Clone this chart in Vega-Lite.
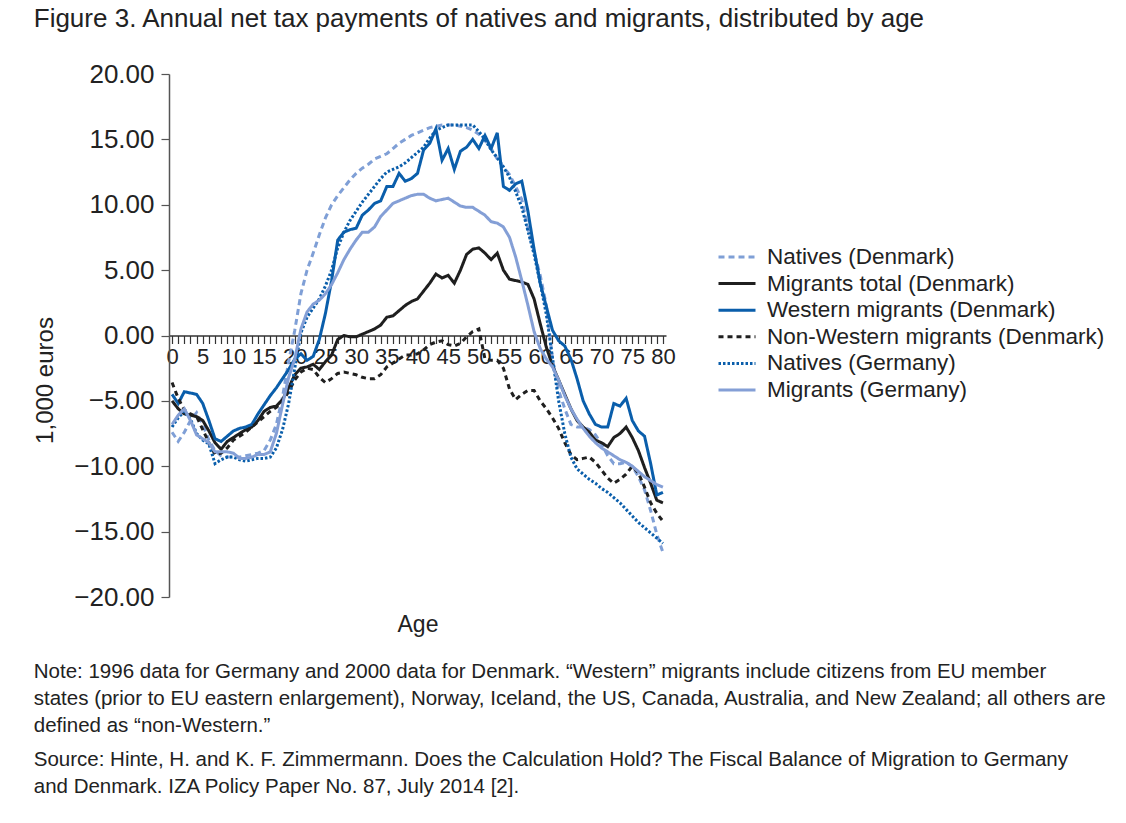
{
  "$schema": "https://vega.github.io/schema/vega-lite/v6.json",
  "background": "white",
  "padding": {"left": 33, "top": 6, "right": 10, "bottom": 10},
  "config": {"font": "Liberation Sans", "view": {"stroke": null}},
  "title": {
    "text": "Figure 3. Annual net tax payments of natives and migrants, distributed by age",
    "anchor": "start", "font": "Liberation Sans", "fontSize": 26, "fontWeight": "normal",
    "color": "#222222", "offset": 29
  },
  "vconcat": [
    {
      "width": 497,
      "height": 523,
      "title": {
        "text": [
          "Note: 1996 data for Germany and 2000 data for Denmark. “Western” migrants include citizens from EU member",
          "states (prior to EU eastern enlargement), Norway, Iceland, the US, Canada, Australia, and New Zealand; all others are",
          "defined as “non-Western.”"
        ],
        "subtitle": [
          "Source: Hinte, H. and K. F. Zimmermann. Does the Calculation Hold? The Fiscal Balance of Migration to Germany",
          "and Denmark. IZA Policy Paper No. 87, July 2014 [2]."
        ],
        "orient": "bottom", "anchor": "start", "frame": "bounds",
        "fontSize": 20.5, "fontWeight": "normal", "color": "#222222", "lineHeight": 27,
        "subtitleFontSize": 20.5, "subtitleColor": "#222222", "subtitleLineHeight": 27, "subtitlePadding": 14,
        "offset": 25
      },
      "data": {
        "values": [
          {"age":0,"Natives (Denmark)":-7.4,"Migrants total (Denmark)":-5.0,"Western migrants (Denmark)":-4.5,"Non-Western migrants (Denmark)":-3.6,"Natives (Germany)":-7.0,"Migrants (Germany)":-6.8},
          {"age":1,"Natives (Denmark)":-8.1,"Migrants total (Denmark)":-5.6,"Western migrants (Denmark)":-5.2,"Non-Western migrants (Denmark)":-4.8,"Natives (Germany)":-6.3,"Migrants (Germany)":-6.1},
          {"age":2,"Natives (Denmark)":-7.4,"Migrants total (Denmark)":-6.0,"Western migrants (Denmark)":-4.3,"Non-Western migrants (Denmark)":-5.7,"Natives (Germany)":-5.8,"Migrants (Germany)":-5.6},
          {"age":3,"Natives (Denmark)":-6.5,"Migrants total (Denmark)":-6.1,"Western migrants (Denmark)":-4.4,"Non-Western migrants (Denmark)":-6.0,"Natives (Germany)":-6.4,"Migrants (Germany)":-6.5},
          {"age":4,"Natives (Denmark)":-5.9,"Migrants total (Denmark)":-6.2,"Western migrants (Denmark)":-4.5,"Non-Western migrants (Denmark)":-6.2,"Natives (Germany)":-7.5,"Migrants (Germany)":-7.6},
          {"age":5,"Natives (Denmark)":-6.8,"Migrants total (Denmark)":-6.5,"Western migrants (Denmark)":-5.2,"Non-Western migrants (Denmark)":-7.2,"Natives (Germany)":-8.0,"Migrants (Germany)":-7.9},
          {"age":6,"Natives (Denmark)":-8.0,"Migrants total (Denmark)":-7.3,"Western migrants (Denmark)":-6.5,"Non-Western migrants (Denmark)":-8.2,"Natives (Germany)":-8.3,"Migrants (Germany)":-8.2},
          {"age":7,"Natives (Denmark)":-8.8,"Migrants total (Denmark)":-8.2,"Western migrants (Denmark)":-7.9,"Non-Western migrants (Denmark)":-9.1,"Natives (Germany)":-9.8,"Migrants (Germany)":-8.9},
          {"age":8,"Natives (Denmark)":-9.2,"Migrants total (Denmark)":-8.7,"Western migrants (Denmark)":-8.1,"Non-Western migrants (Denmark)":-9.0,"Natives (Germany)":-9.5,"Migrants (Germany)":-8.9},
          {"age":9,"Natives (Denmark)":-9.3,"Migrants total (Denmark)":-8.1,"Western migrants (Denmark)":-7.7,"Non-Western migrants (Denmark)":-8.6,"Natives (Germany)":-9.3,"Migrants (Germany)":-8.9},
          {"age":10,"Natives (Denmark)":-9.3,"Migrants total (Denmark)":-7.8,"Western migrants (Denmark)":-7.3,"Non-Western migrants (Denmark)":-8.0,"Natives (Germany)":-9.3,"Migrants (Germany)":-9.0},
          {"age":11,"Natives (Denmark)":-9.3,"Migrants total (Denmark)":-7.5,"Western migrants (Denmark)":-7.1,"Non-Western migrants (Denmark)":-7.7,"Natives (Germany)":-9.5,"Migrants (Germany)":-9.4},
          {"age":12,"Natives (Denmark)":-9.2,"Migrants total (Denmark)":-7.2,"Western migrants (Denmark)":-7.0,"Non-Western migrants (Denmark)":-7.4,"Natives (Germany)":-9.6,"Migrants (Germany)":-9.4},
          {"age":13,"Natives (Denmark)":-9.1,"Migrants total (Denmark)":-7.0,"Western migrants (Denmark)":-6.8,"Non-Western migrants (Denmark)":-7.0,"Natives (Germany)":-9.5,"Migrants (Germany)":-9.3},
          {"age":14,"Natives (Denmark)":-9.0,"Migrants total (Denmark)":-6.5,"Western migrants (Denmark)":-6.0,"Non-Western migrants (Denmark)":-6.6,"Natives (Germany)":-9.4,"Migrants (Germany)":-9.1},
          {"age":15,"Natives (Denmark)":-8.8,"Migrants total (Denmark)":-5.8,"Western migrants (Denmark)":-5.3,"Non-Western migrants (Denmark)":-6.2,"Natives (Germany)":-9.4,"Migrants (Germany)":-9.1},
          {"age":16,"Natives (Denmark)":-8.0,"Migrants total (Denmark)":-5.5,"Western migrants (Denmark)":-4.6,"Non-Western migrants (Denmark)":-5.8,"Natives (Germany)":-9.3,"Migrants (Germany)":-8.9},
          {"age":17,"Natives (Denmark)":-6.8,"Migrants total (Denmark)":-5.4,"Western migrants (Denmark)":-4.0,"Non-Western migrants (Denmark)":-5.5,"Natives (Germany)":-8.6,"Migrants (Germany)":-7.5},
          {"age":18,"Natives (Denmark)":-4.7,"Migrants total (Denmark)":-4.9,"Western migrants (Denmark)":-3.3,"Non-Western migrants (Denmark)":-5.0,"Natives (Germany)":-7.2,"Migrants (Germany)":-5.3},
          {"age":19,"Natives (Denmark)":-2.0,"Migrants total (Denmark)":-4.0,"Western migrants (Denmark)":-2.6,"Non-Western migrants (Denmark)":-4.3,"Natives (Germany)":-5.2,"Migrants (Germany)":-3.2},
          {"age":20,"Natives (Denmark)":0.4,"Migrants total (Denmark)":-3.0,"Western migrants (Denmark)":-1.8,"Non-Western migrants (Denmark)":-3.4,"Natives (Germany)":-2.5,"Migrants (Germany)":-1.8},
          {"age":21,"Natives (Denmark)":3.2,"Migrants total (Denmark)":-2.5,"Western migrants (Denmark)":-1.4,"Non-Western migrants (Denmark)":-2.8,"Natives (Germany)":0.2,"Migrants (Germany)":0.5},
          {"age":22,"Natives (Denmark)":5.0,"Migrants total (Denmark)":-2.4,"Western migrants (Denmark)":-1.9,"Non-Western migrants (Denmark)":-2.5,"Natives (Germany)":1.4,"Migrants (Germany)":1.8},
          {"age":23,"Natives (Denmark)":6.3,"Migrants total (Denmark)":-2.2,"Western migrants (Denmark)":-1.6,"Non-Western migrants (Denmark)":-2.6,"Natives (Germany)":2.1,"Migrants (Germany)":2.4},
          {"age":24,"Natives (Denmark)":7.7,"Migrants total (Denmark)":-2.6,"Western migrants (Denmark)":-0.3,"Non-Western migrants (Denmark)":-3.2,"Natives (Germany)":2.8,"Migrants (Germany)":2.7},
          {"age":25,"Natives (Denmark)":9.0,"Migrants total (Denmark)":-2.0,"Western migrants (Denmark)":1.7,"Non-Western migrants (Denmark)":-3.6,"Natives (Germany)":3.8,"Migrants (Germany)":3.2},
          {"age":26,"Natives (Denmark)":10.0,"Migrants total (Denmark)":-1.5,"Western migrants (Denmark)":4.2,"Non-Western migrants (Denmark)":-3.3,"Natives (Germany)":5.0,"Migrants (Germany)":3.9},
          {"age":27,"Natives (Denmark)":10.7,"Migrants total (Denmark)":-0.3,"Western migrants (Denmark)":7.3,"Non-Western migrants (Denmark)":-2.9,"Natives (Germany)":6.7,"Migrants (Germany)":4.8},
          {"age":28,"Natives (Denmark)":11.3,"Migrants total (Denmark)":0.0,"Western migrants (Denmark)":7.9,"Non-Western migrants (Denmark)":-2.8,"Natives (Germany)":7.9,"Migrants (Germany)":5.8},
          {"age":29,"Natives (Denmark)":11.9,"Migrants total (Denmark)":-0.1,"Western migrants (Denmark)":8.1,"Non-Western migrants (Denmark)":-2.9,"Natives (Germany)":8.8,"Migrants (Germany)":6.6},
          {"age":30,"Natives (Denmark)":12.4,"Migrants total (Denmark)":-0.1,"Western migrants (Denmark)":8.2,"Non-Western migrants (Denmark)":-3.0,"Natives (Germany)":9.5,"Migrants (Germany)":7.3},
          {"age":31,"Natives (Denmark)":12.8,"Migrants total (Denmark)":0.1,"Western migrants (Denmark)":9.2,"Non-Western migrants (Denmark)":-3.2,"Natives (Germany)":10.2,"Migrants (Germany)":7.9},
          {"age":32,"Natives (Denmark)":13.1,"Migrants total (Denmark)":0.3,"Western migrants (Denmark)":9.6,"Non-Western migrants (Denmark)":-3.3,"Natives (Germany)":10.8,"Migrants (Germany)":7.9},
          {"age":33,"Natives (Denmark)":13.5,"Migrants total (Denmark)":0.5,"Western migrants (Denmark)":10.1,"Non-Western migrants (Denmark)":-3.3,"Natives (Germany)":11.4,"Migrants (Germany)":8.3},
          {"age":34,"Natives (Denmark)":13.7,"Migrants total (Denmark)":0.8,"Western migrants (Denmark)":10.3,"Non-Western migrants (Denmark)":-3.0,"Natives (Germany)":12.0,"Migrants (Germany)":9.1},
          {"age":35,"Natives (Denmark)":13.9,"Migrants total (Denmark)":1.4,"Western migrants (Denmark)":11.4,"Non-Western migrants (Denmark)":-2.4,"Natives (Germany)":12.5,"Migrants (Germany)":9.6},
          {"age":36,"Natives (Denmark)":14.3,"Migrants total (Denmark)":1.5,"Western migrants (Denmark)":11.4,"Non-Western migrants (Denmark)":-2.1,"Natives (Germany)":12.7,"Migrants (Germany)":10.1},
          {"age":37,"Natives (Denmark)":14.7,"Migrants total (Denmark)":1.9,"Western migrants (Denmark)":12.4,"Non-Western migrants (Denmark)":-1.8,"Natives (Germany)":12.9,"Migrants (Germany)":10.3},
          {"age":38,"Natives (Denmark)":15.0,"Migrants total (Denmark)":2.3,"Western migrants (Denmark)":11.8,"Non-Western migrants (Denmark)":-1.5,"Natives (Germany)":13.2,"Migrants (Germany)":10.5},
          {"age":39,"Natives (Denmark)":15.3,"Migrants total (Denmark)":2.6,"Western migrants (Denmark)":12.0,"Non-Western migrants (Denmark)":-1.5,"Natives (Germany)":13.6,"Migrants (Germany)":10.7},
          {"age":40,"Natives (Denmark)":15.5,"Migrants total (Denmark)":2.8,"Western migrants (Denmark)":12.4,"Non-Western migrants (Denmark)":-1.4,"Natives (Germany)":14.0,"Migrants (Germany)":10.8},
          {"age":41,"Natives (Denmark)":15.7,"Migrants total (Denmark)":3.4,"Western migrants (Denmark)":14.2,"Non-Western migrants (Denmark)":-1.1,"Natives (Germany)":14.4,"Migrants (Germany)":10.8},
          {"age":42,"Natives (Denmark)":15.9,"Migrants total (Denmark)":4.0,"Western migrants (Denmark)":14.7,"Non-Western migrants (Denmark)":-0.7,"Natives (Germany)":15.1,"Migrants (Germany)":10.5},
          {"age":43,"Natives (Denmark)":16.0,"Migrants total (Denmark)":4.7,"Western migrants (Denmark)":15.8,"Non-Western migrants (Denmark)":-0.5,"Natives (Germany)":15.7,"Migrants (Germany)":10.3},
          {"age":44,"Natives (Denmark)":16.1,"Migrants total (Denmark)":4.4,"Western migrants (Denmark)":13.4,"Non-Western migrants (Denmark)":-0.4,"Natives (Germany)":15.9,"Migrants (Germany)":10.4},
          {"age":45,"Natives (Denmark)":16.1,"Migrants total (Denmark)":4.6,"Western migrants (Denmark)":14.3,"Non-Western migrants (Denmark)":-0.7,"Natives (Germany)":16.1,"Migrants (Germany)":10.5},
          {"age":46,"Natives (Denmark)":16.1,"Migrants total (Denmark)":4.0,"Western migrants (Denmark)":12.7,"Non-Western migrants (Denmark)":-0.8,"Natives (Germany)":16.1,"Migrants (Germany)":10.2},
          {"age":47,"Natives (Denmark)":16.0,"Migrants total (Denmark)":5.0,"Western migrants (Denmark)":14.1,"Non-Western migrants (Denmark)":-0.6,"Natives (Germany)":16.1,"Migrants (Germany)":9.9},
          {"age":48,"Natives (Denmark)":15.9,"Migrants total (Denmark)":6.2,"Western migrants (Denmark)":14.4,"Non-Western migrants (Denmark)":-0.1,"Natives (Germany)":16.1,"Migrants (Germany)":9.8},
          {"age":49,"Natives (Denmark)":15.7,"Migrants total (Denmark)":6.6,"Western migrants (Denmark)":15.0,"Non-Western migrants (Denmark)":0.3,"Natives (Germany)":16.1,"Migrants (Germany)":9.8},
          {"age":50,"Natives (Denmark)":15.4,"Migrants total (Denmark)":6.7,"Western migrants (Denmark)":14.3,"Non-Western migrants (Denmark)":0.5,"Natives (Germany)":15.6,"Migrants (Germany)":9.5},
          {"age":51,"Natives (Denmark)":14.9,"Migrants total (Denmark)":6.3,"Western migrants (Denmark)":15.3,"Non-Western migrants (Denmark)":-1.8,"Natives (Germany)":15.0,"Migrants (Germany)":9.2},
          {"age":52,"Natives (Denmark)":14.3,"Migrants total (Denmark)":5.8,"Western migrants (Denmark)":14.3,"Non-Western migrants (Denmark)":-1.9,"Natives (Germany)":14.2,"Migrants (Germany)":8.7},
          {"age":53,"Natives (Denmark)":13.5,"Migrants total (Denmark)":6.3,"Western migrants (Denmark)":15.5,"Non-Western migrants (Denmark)":-1.9,"Natives (Germany)":13.6,"Migrants (Germany)":8.6},
          {"age":54,"Natives (Denmark)":12.9,"Migrants total (Denmark)":5.0,"Western migrants (Denmark)":11.4,"Non-Western migrants (Denmark)":-2.5,"Natives (Germany)":12.9,"Migrants (Germany)":8.3},
          {"age":55,"Natives (Denmark)":12.3,"Migrants total (Denmark)":4.3,"Western migrants (Denmark)":11.1,"Non-Western migrants (Denmark)":-4.1,"Natives (Germany)":12.1,"Migrants (Germany)":7.5},
          {"age":56,"Natives (Denmark)":11.4,"Migrants total (Denmark)":4.2,"Western migrants (Denmark)":11.6,"Non-Western migrants (Denmark)":-4.9,"Natives (Germany)":11.0,"Migrants (Germany)":6.0},
          {"age":57,"Natives (Denmark)":10.4,"Migrants total (Denmark)":4.1,"Western migrants (Denmark)":11.8,"Non-Western migrants (Denmark)":-4.5,"Natives (Germany)":9.8,"Migrants (Germany)":4.2},
          {"age":58,"Natives (Denmark)":8.2,"Migrants total (Denmark)":3.9,"Western migrants (Denmark)":9.5,"Non-Western migrants (Denmark)":-4.2,"Natives (Germany)":8.0,"Migrants (Germany)":2.3},
          {"age":59,"Natives (Denmark)":6.4,"Migrants total (Denmark)":2.8,"Western migrants (Denmark)":6.6,"Non-Western migrants (Denmark)":-4.2,"Natives (Germany)":6.2,"Migrants (Germany)":0.3},
          {"age":60,"Natives (Denmark)":4.6,"Migrants total (Denmark)":0.9,"Western migrants (Denmark)":4.0,"Non-Western migrants (Denmark)":-5.0,"Natives (Germany)":4.0,"Migrants (Germany)":-1.0},
          {"age":61,"Natives (Denmark)":2.3,"Migrants total (Denmark)":-0.9,"Western migrants (Denmark)":2.2,"Non-Western migrants (Denmark)":-5.6,"Natives (Germany)":1.6,"Migrants (Germany)":-1.8},
          {"age":62,"Natives (Denmark)":-1.8,"Migrants total (Denmark)":-2.3,"Western migrants (Denmark)":0.4,"Non-Western migrants (Denmark)":-6.3,"Natives (Germany)":-1.7,"Migrants (Germany)":-2.4},
          {"age":63,"Natives (Denmark)":-4.2,"Migrants total (Denmark)":-3.4,"Western migrants (Denmark)":-0.4,"Non-Western migrants (Denmark)":-7.1,"Natives (Germany)":-5.0,"Migrants (Germany)":-3.4},
          {"age":64,"Natives (Denmark)":-5.6,"Migrants total (Denmark)":-4.5,"Western migrants (Denmark)":-0.8,"Non-Western migrants (Denmark)":-8.2,"Natives (Germany)":-7.5,"Migrants (Germany)":-4.6},
          {"age":65,"Natives (Denmark)":-6.8,"Migrants total (Denmark)":-5.6,"Western migrants (Denmark)":-1.8,"Non-Western migrants (Denmark)":-9.1,"Natives (Germany)":-9.3,"Migrants (Germany)":-5.6},
          {"age":66,"Natives (Denmark)":-7.0,"Migrants total (Denmark)":-6.5,"Western migrants (Denmark)":-3.3,"Non-Western migrants (Denmark)":-9.5,"Natives (Germany)":-10.2,"Migrants (Germany)":-6.4},
          {"age":67,"Natives (Denmark)":-7.0,"Migrants total (Denmark)":-7.0,"Western migrants (Denmark)":-5.0,"Non-Western migrants (Denmark)":-9.4,"Natives (Germany)":-10.6,"Migrants (Germany)":-7.1},
          {"age":68,"Natives (Denmark)":-7.2,"Migrants total (Denmark)":-7.4,"Western migrants (Denmark)":-6.0,"Non-Western migrants (Denmark)":-9.3,"Natives (Germany)":-11.0,"Migrants (Germany)":-7.7},
          {"age":69,"Natives (Denmark)":-7.6,"Migrants total (Denmark)":-8.0,"Western migrants (Denmark)":-6.8,"Non-Western migrants (Denmark)":-9.7,"Natives (Germany)":-11.3,"Migrants (Germany)":-8.2},
          {"age":70,"Natives (Denmark)":-8.3,"Migrants total (Denmark)":-8.2,"Western migrants (Denmark)":-7.0,"Non-Western migrants (Denmark)":-10.3,"Natives (Germany)":-11.7,"Migrants (Germany)":-8.6},
          {"age":71,"Natives (Denmark)":-9.2,"Migrants total (Denmark)":-8.5,"Western migrants (Denmark)":-7.0,"Non-Western migrants (Denmark)":-10.9,"Natives (Germany)":-12.0,"Migrants (Germany)":-8.9},
          {"age":72,"Natives (Denmark)":-9.8,"Migrants total (Denmark)":-7.8,"Western migrants (Denmark)":-5.2,"Non-Western migrants (Denmark)":-11.3,"Natives (Germany)":-12.4,"Migrants (Germany)":-9.2},
          {"age":73,"Natives (Denmark)":-9.8,"Migrants total (Denmark)":-7.5,"Western migrants (Denmark)":-5.4,"Non-Western migrants (Denmark)":-11.0,"Natives (Germany)":-12.8,"Migrants (Germany)":-9.5},
          {"age":74,"Natives (Denmark)":-9.7,"Migrants total (Denmark)":-7.0,"Western migrants (Denmark)":-4.8,"Non-Western migrants (Denmark)":-10.6,"Natives (Germany)":-13.3,"Migrants (Germany)":-9.7},
          {"age":75,"Natives (Denmark)":-10.0,"Migrants total (Denmark)":-7.8,"Western migrants (Denmark)":-6.5,"Non-Western migrants (Denmark)":-10.0,"Natives (Germany)":-13.8,"Migrants (Germany)":-10.0},
          {"age":76,"Natives (Denmark)":-10.8,"Migrants total (Denmark)":-8.8,"Western migrants (Denmark)":-7.3,"Non-Western migrants (Denmark)":-10.5,"Natives (Germany)":-14.3,"Migrants (Germany)":-10.4},
          {"age":77,"Natives (Denmark)":-11.8,"Migrants total (Denmark)":-10.1,"Western migrants (Denmark)":-7.7,"Non-Western migrants (Denmark)":-11.6,"Natives (Germany)":-14.7,"Migrants (Germany)":-10.8},
          {"age":78,"Natives (Denmark)":-13.4,"Migrants total (Denmark)":-11.3,"Western migrants (Denmark)":-9.8,"Non-Western migrants (Denmark)":-12.8,"Natives (Germany)":-15.1,"Migrants (Germany)":-11.1},
          {"age":79,"Natives (Denmark)":-15.2,"Migrants total (Denmark)":-12.6,"Western migrants (Denmark)":-12.2,"Non-Western migrants (Denmark)":-13.6,"Natives (Germany)":-15.5,"Migrants (Germany)":-11.4},
          {"age":80,"Natives (Denmark)":-16.6,"Migrants total (Denmark)":-12.8,"Western migrants (Denmark)":-12.0,"Non-Western migrants (Denmark)":-14.2,"Natives (Germany)":-15.9,"Migrants (Germany)":-11.6}
        ]
      },
      "transform": [
        {"fold": ["Natives (Denmark)", "Migrants total (Denmark)", "Western migrants (Denmark)", "Non-Western migrants (Denmark)", "Natives (Germany)", "Migrants (Germany)"], "as": ["series", "value"]}
      ],
      "mark": {"type": "line", "strokeWidth": 3, "strokeCap": "butt"},
      "encoding": {
        "x": {
          "field": "age", "type": "quantitative",
          "scale": {"domain": [-0.5, 80.5], "nice": false, "zero": false},
          "axis": {
            "title": "Age", "offset": -261.5,
            "values": [0,1,2,3,4,5,6,7,8,9,10,11,12,13,14,15,16,17,18,19,20,21,22,23,24,25,26,27,28,29,30,31,32,33,34,35,36,37,38,39,40,41,42,43,44,45,46,47,48,49,50,51,52,53,54,55,56,57,58,59,60,61,62,63,64,65,66,67,68,69,70,71,72,73,74,75,76,77,78,79,80],
            "labelExpr": "datum.value % 5 === 0 ? datum.label : ''",
            "labelOverlap": false, "labelFlush": false,
            "labelFontSize": 22, "labelColor": "#222222", "labelPadding": 3,
            "tickSize": 8, "tickColor": "#333333", "tickWidth": 1.2,
            "domainColor": "#333333", "domainWidth": 1.5,
            "grid": false,
            "titleFontSize": 23, "titleFontWeight": "normal", "titleColor": "#222222", "titlePadding": 246
          }
        },
        "y": {
          "field": "value", "type": "quantitative",
          "scale": {"domain": [-20, 20], "nice": false},
          "axis": {
            "title": "1,000 euros",
            "values": [-20, -15, -10, -5, 0, 5, 10, 15, 20],
            "format": ".2f",
            "labelFontSize": 26, "labelColor": "#222222", "labelPadding": 7,
            "tickSize": 8, "tickColor": "#555555", "tickWidth": 1.2,
            "domainColor": "#555555", "domainWidth": 1.5,
            "grid": false,
            "titleFontSize": 24, "titleFontWeight": "normal", "titleColor": "#222222", "titlePadding": 16,
            "titleY": 306
          }
        },
        "color": {
          "field": "series", "type": "nominal",
          "scale": {
            "domain": ["Natives (Denmark)", "Migrants total (Denmark)", "Western migrants (Denmark)", "Non-Western migrants (Denmark)", "Natives (Germany)", "Migrants (Germany)"],
            "range": ["#7f9fd6", "#1f1f1f", "#0a5eab", "#1f1f1f", "#0a5eab", "#849fd6"]
          },
          "legend": {
            "title": null, "orient": "none", "legendX": 548, "legendY": 172,
            "symbolType": "stroke", "symbolSize": 1369, "symbolStrokeWidth": 3,
            "labelFontSize": 22.5, "labelColor": "#222222", "labelOffset": 10, "labelLimit": 500,
            "clipHeight": 22, "rowPadding": 3.6
          }
        },
        "strokeDash": {
          "field": "series", "type": "nominal",
          "scale": {
            "domain": ["Natives (Denmark)", "Migrants total (Denmark)", "Western migrants (Denmark)", "Non-Western migrants (Denmark)", "Natives (Germany)", "Migrants (Germany)"],
            "range": [[6, 4], [1, 0], [1, 0], [5, 4], [2.5, 2], [1, 0]]
          },
          "legend": null
        }
      }
    }
  ]
}
